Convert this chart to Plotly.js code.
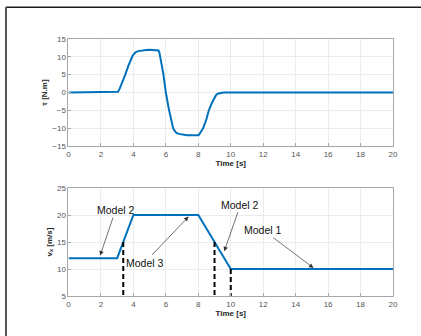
<!DOCTYPE html>
<html>
<head>
<meta charset="utf-8">
<script src="https://cdn.plot.ly/plotly-3.0.1.min.js"></script>
<style>
html,body{margin:0;padding:0;background:#fff;}
#chart{width:421px;height:336px;}
</style>
</head>
<body>
<div id="chart"></div>
<script>
// Torque (top panel)
const tauTime = [0, 3.0, 3.05, 3.15, 3.3, 3.5, 3.7, 3.85, 3.95, 4.05, 4.15, 4.3, 4.5, 4.8, 5.0, 5.5, 5.55, 5.6, 5.65, 5.75, 5.85, 6.0, 6.2, 6.35, 6.45, 6.55, 6.65, 6.8, 7.0, 7.3, 8.0, 8.05, 8.15, 8.3, 8.5, 8.65, 8.85, 9.0, 9.1, 9.2, 9.3, 9.45, 9.6, 10, 20];
const tauVals = [0, 0, 0.2, 1.0, 2.6, 5.0, 7.6, 9.4, 10.3, 10.9, 11.3, 11.6, 11.8, 11.9, 12, 12, 11.8, 11.2, 10.2, 7.6, 5, 0, -5, -8.5, -10, -10.8, -11.3, -11.6, -11.8, -12, -12, -11.8, -11.1, -10, -7.5, -5, -2.8, -1.4, -0.7, -0.35, -0.15, -0.05, 0, 0, 0];

// Longitudinal speed (bottom panel)
const vxTime = [0, 3, 4, 8, 10, 20];
const vxVals = [12, 12, 20, 20, 10, 10];

// Model switching markers
const switchTimes = [3.375, 9, 10];
const switchTops = [15, 15, 10];
const switchBottom = 5;

// Annotations: label, arrow head (x, y), text centre (x, y)
const annLabels = ["Model 2", "Model 3", "Model 2", "Model 1"];
const annHeadX = [1.95, 7.4, 9.6, 15.1];
const annHeadY = [12.5, 19.7, 13.3, 10.2];
const annTextX = [2.9, 4.7, 10.6, 12.0];
const annTextY = [20.9, 11.2, 21.9, 17.2];

const xTicks = [0, 2, 4, 6, 8, 10, 12, 14, 16, 18, 20];
const tauTicks = [-15, -10, -5, 0, 5, 10, 15];
const vxTicks = [5, 10, 15, 20, 25];

const blue = '#0072BD';
const traces = [
  {x: tauTime, y: tauVals, xaxis: 'x', yaxis: 'y', mode: 'lines', line: {color: blue, width: 2}, hoverinfo: 'skip'},
  {x: vxTime, y: vxVals, xaxis: 'x2', yaxis: 'y2', mode: 'lines', line: {color: blue, width: 2}, hoverinfo: 'skip'}
];
for (let i = 0; i < switchTimes.length; i++) {
  traces.push({x: [switchTimes[i], switchTimes[i]], y: [switchTops[i], switchBottom], xaxis: 'x2', yaxis: 'y2',
    mode: 'lines', line: {color: '#000', width: 2, dash: '5px,3px'}, hoverinfo: 'skip'});
}

const font = 'Liberation Sans, Arial, Helvetica, sans-serif';
const axBase = {
  showline: true, mirror: true, linecolor: '#a8a8a8', linewidth: 1,
  ticks: 'inside', ticklen: 3, tickcolor: '#a8a8a8', tickwidth: 1,
  showgrid: true, gridcolor: '#ececec', gridwidth: 1, zeroline: false,
  tickfont: {family: font, size: 8, color: '#555'}, fixedrange: true
};
const titleFont = {family: font, size: 8, color: '#262626', weight: 'bold'};

const annotations = annLabels.map((t, i) => ({
  text: t, x: annHeadX[i], y: annHeadY[i], ax: annTextX[i], ay: annTextY[i],
  xref: 'x2', yref: 'y2', axref: 'x2', ayref: 'y2',
  showarrow: true, arrowhead: 2, arrowsize: 1.3, arrowwidth: 0.7, arrowcolor: '#333',
  font: {family: font, size: 10.5, color: '#111'}
}));

const layout = {
  width: 421, height: 336,
  margin: {l: 0, r: 0, t: 0, b: 0},
  paper_bgcolor: '#fff', plot_bgcolor: '#fff',
  showlegend: false,
  xaxis: Object.assign({}, axBase, {domain: [0.1627, 0.9335], range: [0, 20], tickvals: xTicks, anchor: 'y',
    title: {text: 'Time [s]', font: titleFont, standoff: 2}}),
  yaxis: Object.assign({}, axBase, {domain: [0.5655, 0.8839], range: [-15, 15], tickvals: tauTicks, anchor: 'x',
    title: {text: 'τ [N.m]', font: titleFont, standoff: 3}}),
  xaxis2: Object.assign({}, axBase, {domain: [0.1627, 0.9335], range: [0, 20], tickvals: xTicks, anchor: 'y2',
    title: {text: 'Time [s]', font: titleFont, standoff: 2}}),
  yaxis2: Object.assign({}, axBase, {domain: [0.119, 0.4405], range: [5, 25], tickvals: vxTicks, anchor: 'x2',
    title: {text: 'v<sub>x</sub> [m/s]', font: titleFont, standoff: 3}}),
  annotations: annotations,
  shapes: [
    {type: 'line', xref: 'paper', yref: 'paper', x0: 6/421, x1: 1, y0: 1 - 7.3/336, y1: 1 - 7.3/336, line: {color: '#1a1a1a', width: 1.5}},
    {type: 'line', xref: 'paper', yref: 'paper', x0: 6/421, x1: 6/421, y0: 0, y1: 1 - 7/336, line: {color: '#555', width: 2}}
  ]
};

Plotly.newPlot('chart', traces, layout, {staticPlot: true, displayModeBar: false});
</script>
</body>
</html>
